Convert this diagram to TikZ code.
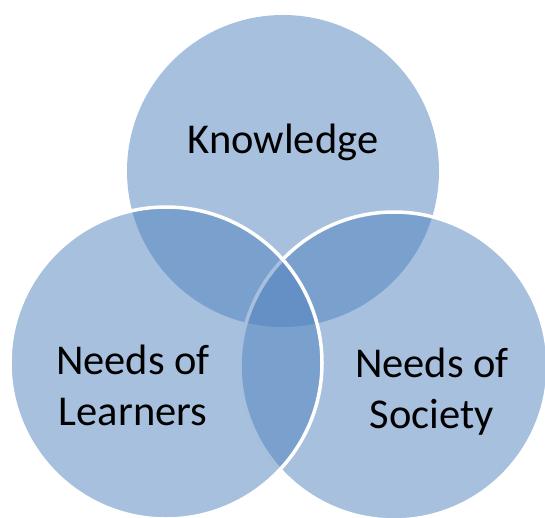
\documentclass[tikz,border=0pt]{standalone}
\usepackage{fontspec}
\setmainfont{Carlito}
\definecolor{vennblue}{HTML}{4F81BD}
\begin{document}
\begin{tikzpicture}[x=1pt,y=-1pt,
  venn/.style={circle, inner sep=0pt, fill=vennblue, fill opacity=0.5},
  vennline/.style={draw=white, draw opacity=1, line width=3.5pt},
  lbl/.style={font=\fontsize{42.5}{51}\selectfont, align=center, anchor=base, inner sep=0pt, text=black, text opacity=1}]
\useasboundingbox (0,0) rectangle (545,518);
\clip (0,0) rectangle (545,518);
\node[venn, minimum size=312pt] (know) at (283,171) {};
\node[venn, vennline, minimum size=308pt] (soc) at (394,366) {};
\node[venn, vennline, minimum size=312pt] (learn) at (166,363) {};
\node[lbl] (tk) at (283,153.5) {Knowledge};
\node[lbl] (tl) at (133,425) {Needs of\\Learners};
\node[lbl] (ts) at (432,428) {Needs of\\Society};
\end{tikzpicture}
\end{document}
